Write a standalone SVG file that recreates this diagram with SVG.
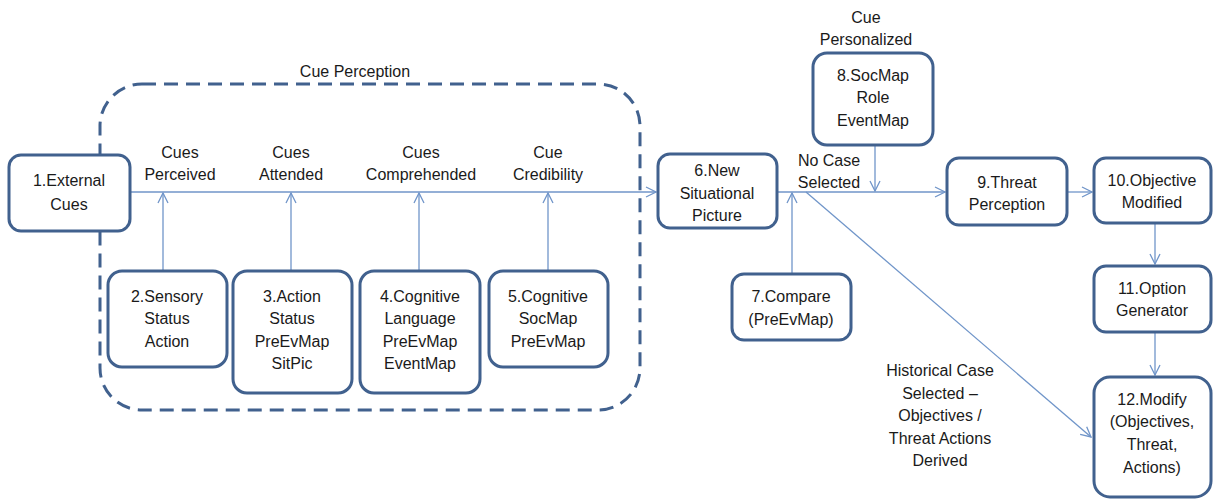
<svg xmlns="http://www.w3.org/2000/svg" width="1213" height="500" viewBox="0 0 1213 500">
  <defs>
    <marker id="arr" viewBox="0 0 12 12" refX="11" refY="6" markerWidth="12" markerHeight="12" markerUnits="userSpaceOnUse" orient="auto">
      <path d="M1,1 L11,6 L1,11" fill="none" stroke="#7095c9" stroke-width="1.3"/>
    </marker>
    <style>
      .box { fill: #ffffff; stroke: #41618e; stroke-width: 3; }
      .grp { fill: none; stroke: #41618e; stroke-width: 3; stroke-dasharray: 14 8; }
      .ln { fill: none; stroke: #7095c9; stroke-width: 1.3; }
      .t { font-family: "Liberation Sans", Arial, sans-serif; font-size: 16px; fill: #1a1a1a; text-anchor: middle; }
    </style>
  </defs>
  <rect width="1213" height="500" fill="#ffffff"/>

  <!-- cue perception stage boundary -->
  <g id="cue-perception">
    <rect class="grp" x="100" y="84" width="540" height="326" rx="42"/>
    <text class="t" x="355" y="77">Cue Perception</text>
  </g>

  <!-- connectors -->
  <g id="connectors">
    <line class="ln" x1="130" y1="192" x2="656" y2="192" marker-end="url(#arr)"/>
    <line class="ln" x1="163" y1="270" x2="163" y2="193" marker-end="url(#arr)"/>
    <line class="ln" x1="291" y1="270" x2="291" y2="193" marker-end="url(#arr)"/>
    <line class="ln" x1="419" y1="270" x2="419" y2="193" marker-end="url(#arr)"/>
    <line class="ln" x1="548" y1="270" x2="548" y2="193" marker-end="url(#arr)"/>
    <line class="ln" x1="777" y1="192" x2="945" y2="192" marker-end="url(#arr)"/>
    <line class="ln" x1="792" y1="273" x2="792" y2="193" marker-end="url(#arr)"/>
    <line class="ln" x1="875" y1="145" x2="875" y2="191" marker-end="url(#arr)"/>
    <line class="ln" x1="806" y1="192" x2="1091" y2="437" marker-end="url(#arr)"/>
    <line class="ln" x1="1067" y1="192" x2="1092" y2="192" marker-end="url(#arr)"/>
    <line class="ln" x1="1155" y1="223" x2="1155" y2="264" marker-end="url(#arr)"/>
    <line class="ln" x1="1155" y1="332" x2="1155" y2="375" marker-end="url(#arr)"/>
  </g>

  <!-- connector labels -->
  <g id="labels">
    <text class="t" x="180" y="158">Cues</text>
    <text class="t" x="180" y="180">Perceived</text>
    <text class="t" x="291" y="158">Cues</text>
    <text class="t" x="291" y="180">Attended</text>
    <text class="t" x="421" y="158">Cues</text>
    <text class="t" x="421" y="180">Comprehended</text>
    <text class="t" x="548" y="158">Cue</text>
    <text class="t" x="548" y="180">Credibility</text>
    <text class="t" x="829" y="166">No Case</text>
    <text class="t" x="829" y="188">Selected</text>
    <text class="t" x="866" y="23">Cue</text>
    <text class="t" x="866" y="45">Personalized</text>
    <text class="t" x="940" y="376">Historical Case</text>
    <text class="t" x="940" y="399">Selected –</text>
    <text class="t" x="940" y="421">Objectives /</text>
    <text class="t" x="940" y="444">Threat Actions</text>
    <text class="t" x="940" y="466">Derived</text>
  </g>

  <g id="n1">
    <rect class="box" x="9" y="155" width="121" height="76" rx="12"/>
    <text class="t" x="69" y="186">1.External</text>
    <text class="t" x="69" y="210">Cues</text>
  </g>
  <g id="n2">
    <rect class="box" x="108" y="271" width="119" height="96" rx="14"/>
    <text class="t" x="167" y="302">2.Sensory</text>
    <text class="t" x="167" y="324">Status</text>
    <text class="t" x="167" y="347">Action</text>
  </g>
  <g id="n3">
    <rect class="box" x="233" y="271" width="119" height="122" rx="14"/>
    <text class="t" x="292" y="302">3.Action</text>
    <text class="t" x="292" y="324">Status</text>
    <text class="t" x="292" y="347">PreEvMap</text>
    <text class="t" x="292" y="369">SitPic</text>
  </g>
  <g id="n4">
    <rect class="box" x="360" y="271" width="120" height="122" rx="14"/>
    <text class="t" x="420" y="302">4.Cognitive</text>
    <text class="t" x="420" y="324">Language</text>
    <text class="t" x="420" y="347">PreEvMap</text>
    <text class="t" x="420" y="369">EventMap</text>
  </g>
  <g id="n5">
    <rect class="box" x="489" y="271" width="119" height="96" rx="14"/>
    <text class="t" x="548" y="302">5.Cognitive</text>
    <text class="t" x="548" y="324">SocMap</text>
    <text class="t" x="548" y="347">PreEvMap</text>
  </g>
  <g id="n6">
    <rect class="box" x="658" y="154" width="119" height="74" rx="12"/>
    <text class="t" x="717" y="176">6.New</text>
    <text class="t" x="717" y="199">Situational</text>
    <text class="t" x="717" y="221">Picture</text>
  </g>
  <g id="n7">
    <rect class="box" x="732" y="274" width="119" height="66" rx="12"/>
    <text class="t" x="791" y="302">7.Compare</text>
    <text class="t" x="791" y="325">(PreEvMap)</text>
  </g>
  <g id="n8">
    <rect class="box" x="813" y="53" width="120" height="92" rx="14"/>
    <text class="t" x="873" y="81">8.SocMap</text>
    <text class="t" x="873" y="103">Role</text>
    <text class="t" x="873" y="126">EventMap</text>
  </g>
  <g id="n9">
    <rect class="box" x="947" y="158" width="120" height="67" rx="12"/>
    <text class="t" x="1007" y="188">9.Threat</text>
    <text class="t" x="1007" y="210">Perception</text>
  </g>
  <g id="n10">
    <rect class="box" x="1094" y="158" width="117" height="65" rx="12"/>
    <text class="t" x="1152" y="186">10.Objective</text>
    <text class="t" x="1152" y="208">Modified</text>
  </g>
  <g id="n11">
    <rect class="box" x="1094" y="266" width="117" height="66" rx="12"/>
    <text class="t" x="1152" y="294">11.Option</text>
    <text class="t" x="1152" y="316">Generator</text>
  </g>
  <g id="n12">
    <rect class="box" x="1094" y="377" width="117" height="120" rx="16"/>
    <text class="t" x="1152" y="405">12.Modify</text>
    <text class="t" x="1152" y="427">(Objectives,</text>
    <text class="t" x="1152" y="450">Threat,</text>
    <text class="t" x="1152" y="473">Actions)</text>
  </g>
</svg>
